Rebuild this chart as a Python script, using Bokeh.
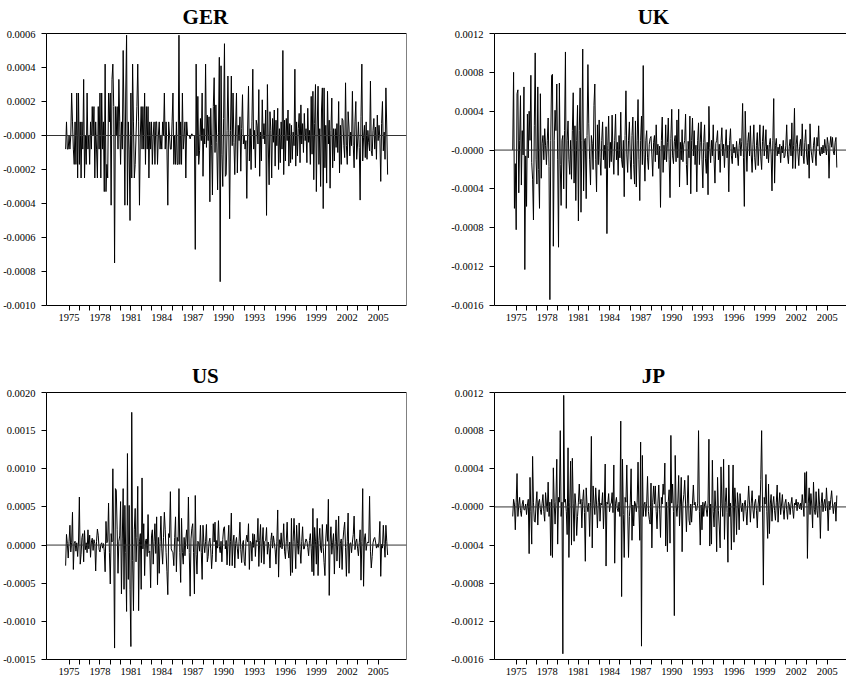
import numpy as np
from bokeh.plotting import figure
from bokeh.models import Range1d, FixedTicker, LinearAxis, Span
from bokeh.core.properties import value
from bokeh.layouts import row, column
from bokeh.embed import file_html
from bokeh.resources import INLINE

# Monthly series, values in units of 1e-4
UNIT = 1e-4
START = 1974 + 8 / 12   # first observation (fractional year)
STEP = 1 / 12

ger = [
    -0.8, 0.8, -0.8, -0.8, 0.0, -0.8, 0.0, 2.5, 0.8, -0.8, -1.7, 0.8,
    -1.7, 2.5, -2.5, 2.5, -1.7, 0.8, -2.5, 0.8, -0.8, 3.3, -2.5, 0.0,
    -1.7, 2.5, -0.8, 0.0, -1.7, 0.8, -0.8, 1.7, 0.0, 1.7, -2.5, 0.8,
    -0.8, -2.5, 1.7, -0.8, 2.5, -2.5, 2.5, -0.8, 0.8, -3.3, 4.2, -3.3,
    -1.7, -2.5, 2.5, 0.8, 2.5, -4.1, 3.3, 4.2, 1.7, -7.5, 1.7, 0.0,
    1.7, -0.8, 3.3, 0.8, -1.7, 0.8, -0.8, 5.0, 0.8, -4.1, 2.5, 5.9,
    -4.1, 0.8, -0.8, -5.0, 2.5, -2.5, 4.2, 0.8, -2.5, -1.7, 0.0, 1.7,
    4.2, 0.8, -4.1, 0.0, 1.7, -0.8, 1.7, -0.8, 2.5, -1.7, 1.7, -0.8,
    1.7, -2.5, 0.8, -0.8, 0.8, -1.7, 0.0, 0.8, -1.7, 0.8, 0.8, -1.7,
    0.0, 0.8, -0.8, 0.0, -0.8, 0.8, 0.0, 2.5, -0.8, 0.8, -0.8, -4.1,
    0.8, 0.0, -0.8, -0.8, 0.8, 2.5, -1.7, 0.0, -1.7, 0.8, -1.7, -1.7,
    5.9, -1.7, 0.8, -1.7, 2.5, -0.8, 0.0, 0.8, -2.5, 0.8, 0.0, 0.0,
    0.0, -0.2, 0.0, 0.1, 0.0, 0.0, 0.0, -6.7, 4.2, -1.2, 2.3, -1.7,
    -0.9, 1.0, -0.3, 2.5, -2.4, 0.4, -0.5, 4.2, -0.7, 1.2, -0.3, 1.1,
    -3.9, 1.6, -0.6, -3.5, 1.7, 3.4, -1.0, 1.8, -0.4, -3.2, 0.2, 4.6,
    -8.6, 4.1, -1.1, -3.0, 1.0, 5.4, -2.4, -2.3, 0.3, 3.5, 0.2, -4.9,
    0.3, 3.5, -0.6, 2.5, -0.4, -2.3, 0.5, 2.5, -2.2, 0.6, -0.3, 1.1,
    -2.1, 0.4, 2.4, -0.5, 0.0, -0.8, -0.3, -3.7, 0.5, 2.9, -1.5, 0.4,
    -2.0, 0.8, 3.9, -0.8, 0.3, -1.9, 0.9, 0.6, -0.5, 2.7, -2.4, 0.2,
    -1.5, 2.1, -0.2, 0.7, -0.5, 1.5, -4.7, 3.0, -0.5, -2.9, 1.4, 0.3,
    -2.5, 1.0, -0.4, 1.5, -1.8, 0.9, -0.6, 1.6, -2.0, 0.4, -1.6, 0.8,
    -0.8, 5.0, -2.3, 0.9, -1.5, 1.0, -0.3, 1.5, -1.8, 0.7, -1.6, 0.6,
    -1.4, 0.2, -0.6, 3.9, -1.8, 0.8, -1.2, 0.4, 1.3, -1.6, 1.8, -0.5,
    0.7, -1.0, 1.3, -0.3, 0.4, -1.6, 1.6, -0.4, 0.3, -1.7, 2.3, -1.1,
    2.6, -2.6, 0.7, 3.0, -3.3, 0.5, 2.9, -1.7, 0.4, -3.0, 1.5, 2.8,
    -4.3, 2.8, -1.9, 0.6, -2.8, 2.6, -0.5, 0.9, -3.1, 0.3, 2.2, -1.9,
    0.4, -1.5, 0.4, -0.7, 0.7, -1.0, 2.0, -2.2, 0.6, -1.7, 1.0, 0.9,
    -0.6, -1.3, 3.1, -0.6, -1.7, 1.4, 0.5, -1.2, 0.2, -0.6, 2.6, -0.6,
    -1.9, 0.8, 2.0, -1.4, -0.5, 0.8, -0.7, -3.8, 1.1, 4.2, -1.5, -0.1,
    0.6, -1.3, 0.8, -1.4, 0.3, -0.4, -0.9, 3.2, -0.9, -1.2, 0.3, 1.0,
    -0.8, 0.5, -1.4, 1.2, -0.3, 0.6, -0.2, -2.7, 0.7, 2.0, -0.9, 0.2,
    -1.4, 2.8, 0.5, -2.3,
]

uk = [
    0.0, 8.0, -6.0, -1.4, -8.2, 5.8, 6.2, -4.4, 1.0, 5.6, -3.6, 2.0,
    -0.5, 6.5, -12.3, -0.6, -5.8, 3.7, -0.8, 4.0, 1.0, 7.7, -1.3, -3.0,
    -7.2, 2.5, 10.0, -1.0, -3.5, 6.5, -2.0, -6.0, 5.8, -2.9, 0.7, 1.5,
    -1.0, 2.2, 0.5, -1.5, 1.0, 3.3, -1.7, -15.4, 1.0, 7.7, 7.8, -9.9,
    1.0, 4.1, 2.0, 6.8, -1.0, -10.0, 6.9, -1.5, -5.7, 1.0, 1.5, -4.0,
    2.0, 10.1, -6.0, 1.0, 3.0, -1.0, -2.5, 1.0, -3.0, 2.0, 5.9, -3.4,
    2.5, -5.2, 1.0, 4.6, -7.3, 2.0, 6.4, -6.4, 1.0, 10.4, -4.2, 1.0,
    1.2, -5.0, 1.5, 8.8, 2.7, -1.0, -3.6, 1.5, 0.7, -2.0, 4.6, 6.8,
    -1.0, -4.3, 2.6, -1.5, 3.1, -0.8, -2.6, 1.0, 2.9, -1.0, 0.5, -1.9,
    2.4, -8.6, 0.5, 3.5, -1.8, 0.8, -1.2, 3.6, -0.5, -2.5, 1.0, 3.7,
    -1.0, 0.8, -2.6, 1.5, -0.8, 3.9, -1.0, -1.8, 1.0, -4.8, 1.5, 6.1,
    -0.5, -2.3, 1.0, 2.9, -1.0, -3.0, 1.5, 3.4, -1.5, -3.5, 3.0, -3.8,
    1.0, 5.2, -1.0, -5.2, 1.0, 3.5, -1.5, 8.7, -0.5, -3.2, 1.0, 2.0,
    -0.8, -2.0, 0.6, 1.2, 1.4, -0.5, -2.7, 0.8, 1.5, -1.2, 2.6, -0.5,
    0.6, -1.9, 0.4, -5.9, 1.0, 3.4, -2.3, 0.5, -1.0, 2.6, -1.2, 0.8,
    3.3, -1.0, -4.9, 1.2, 4.2, -0.6, -1.4, 0.9, 1.5, -1.2, 3.1, -0.8,
    4.2, -3.8, 0.8, -1.0, 2.1, -1.2, 0.6, 1.0, 3.7, -1.5, -3.6, 0.9,
    -0.8, 3.5, -4.5, 1.0, 3.3, -0.6, 2.0, -1.5, 0.5, -4.3, 1.0, 2.8,
    -1.5, 0.8, 2.9, -1.0, -3.9, 0.8, 2.6, -0.9, -2.4, 0.8, -4.6, 4.5,
    0.3, -1.3, 1.0, -0.6, 2.6, -1.0, -3.4, 0.7, 1.0, 2.0, -1.0, 0.6,
    -2.3, 0.8, 2.3, -0.6, 0.6, -1.8, 0.4, 2.1, -0.8, 0.5, -4.3, 1.0,
    2.2, -0.6, -1.4, 0.6, -0.3, 0.3, -0.8, 0.9, -0.4, -1.6, 0.5, 1.2,
    -0.6, 0.9, 4.8, -0.8, -5.8, 4.0, 0.5, -2.2, 0.8, 1.8, -0.6, 2.5,
    -0.5, -2.3, 0.6, 2.6, -0.8, -2.0, 0.5, 1.8, -1.6, 0.4, 2.6, -0.7,
    -2.0, 0.9, 2.5, -0.6, 0.4, 2.1, -0.9, 0.5, -1.3, 0.6, 1.2, -0.5,
    -4.2, 1.0, 5.3, -3.4, 0.5, 1.2, -0.6, 0.3, -0.4, 0.6, -1.3, 0.4,
    -0.3, 1.0, -0.8, -0.6, 0.5, 2.6, -0.5, -1.4, 0.4, 1.1, -0.6, 2.8,
    -1.9, 0.5, 4.3, -1.9, 0.6, 1.5, -0.3, -1.6, 0.4, 1.1, -0.6, 2.7,
    -0.5, -1.4, 0.8, 2.1, -0.5, -1.5, 0.6, -2.9, 2.7, 0.2, -0.6, -1.3,
    0.5, 1.3, -0.4, -1.6, 1.3, 0.4, 2.5, -0.4, -0.6, 0.3, -0.4, 0.5,
    -0.3, 1.1, 0.2, -0.5, 1.3, 0.6, -2.9, 0.5, 1.4, 0.3, 1.3, -0.2,
    -0.5, 0.8, 1.3, -1.8,
]

us = [
    -2.7, 1.4, 0.2, -1.7, 0.5, 2.6, -0.9, 0.3, 4.3, -3.2, 0.2, 0.5,
    -0.8, 0.3, -1.5, 0.4, 6.3, -2.5, -1.2, 1.0, 1.5, -2.2, 1.9, -0.6,
    0.3, -1.0, 2.0, -0.5, 1.3, -1.6, 0.4, 0.9, -0.7, 0.7, 0.2, -3.4,
    0.5, 2.1, 1.3, -0.6, -0.9, 0.1, 0.3, -0.4, 0.2, -0.8, -3.5, 3.1,
    0.3, 0.5, 5.5, -1.0, -5.1, 1.5, 0.4, 10.0, 0.5, -13.5, 7.4, 7.2,
    2.0, -3.7, 0.5, 1.2, 5.7, -6.4, 0.8, 7.4, -5.8, 5.2, -1.0, -8.7,
    12.0, -4.5, 5.2, -5.8, -13.3, 17.4, -2.0, -8.6, 2.0, 4.8, -2.2, 1.0,
    7.7, -8.6, 0.5, 1.5, -5.8, 8.8, -0.5, 2.8, -4.0, 0.6, 0.8, -1.5,
    4.0, -1.0, -0.8, -5.6, 1.2, 2.0, -2.5, 0.5, 2.8, -1.1, 3.7, -5.2,
    1.0, -3.7, 0.5, 3.8, -0.5, -2.5, 1.0, 4.3, 2.0, -1.0, -3.5, -6.5,
    1.5, 1.0, 7.0, -0.5, -0.8, -1.0, -2.7, 1.0, 3.7, -3.5, 1.0, 0.5,
    7.4, -1.0, -4.9, 3.5, -1.0, -2.5, 1.0, -1.4, 0.8, 2.0, -0.5, 6.3,
    -1.0, -6.7, 0.8, 2.2, 2.8, -1.0, -6.4, 6.5, -1.2, -3.8, 0.5, 0.3,
    -0.8, 2.6, -1.0, -4.5, 2.6, 0.3, -1.0, 0.5, 2.7, -2.2, -1.5, 0.4,
    0.9, -0.5, -3.1, -1.2, 2.8, 0.4, 3.0, -2.2, 0.6, -0.4, 3.2, -0.2,
    -1.0, 0.5, -2.2, 0.7, 2.2, 2.4, -0.5, 0.6, -2.6, 0.4, 2.6, -2.7,
    0.5, 4.2, -2.7, 0.4, 1.3, -3.0, 0.2, 1.0, -0.5, -1.8, 0.5, 3.0,
    -0.6, -2.3, 0.1, 0.6, -2.2, -2.7, 0.5, 1.3, 0.4, 2.8, -3.2, 0.5,
    0.3, -2.1, 1.5, -0.3, 1.4, -1.5, 0.6, 0.4, 3.5, -2.8, 0.6, 2.7,
    -2.3, 0.4, 2.3, -2.5, 0.5, 0.6, 2.3, -1.2, 0.4, -0.5, -3.0, 0.6,
    1.6, -0.4, 1.2, 0.3, -0.6, -2.5, 0.5, 4.6, -4.2, 0.7, -0.3, 1.6,
    -0.5, 0.4, 2.8, -0.8, -1.8, 0.5, 3.0, -0.6, -1.7, 0.4, -4.0, 3.5,
    -3.6, 0.5, 3.5, 0.4, -3.1, 2.6, 0.2, -1.2, 2.9, -0.6, -2.4, 0.5,
    2.4, -0.5, -0.5, 0.3, 0.8, 0.5, -0.3, -1.4, 0.6, 1.5, -0.5, -3.5,
    4.8, -4.0, 2.3, 0.5, -2.5, 3.5, -4.0, 0.6, 2.2, -0.5, -1.0, 2.7,
    -0.3, -2.3, -4.0, 0.8, 2.7, 0.5, 6.0, -6.6, 0.4, 2.4, -1.2, 0.3,
    1.5, -3.8, 0.5, 3.3, -2.1, 0.4, 3.8, -3.0, 0.2, 0.8, -3.2, 0.6,
    2.0, 3.0, -0.3, -4.1, 0.5, 4.2, -3.7, 0.2, 0.3, -1.0, 0.4, 1.4,
    3.8, -0.6, 0.4, 0.8, -0.4, -1.4, 0.3, 2.0, -4.6, 0.5, 7.4, -5.4,
    0.8, 1.5, -0.7, 0.2, 0.4, 0.3, 6.4, -0.8, -3.0, -1.5, 0.3, 0.8,
    1.0, 0.4, -0.4, 0.1, -0.3, 0.4, 3.1, -4.1, 0.1, -0.4, 2.6, 0.2,
    -1.6, 2.6, 0.5, -1.3,
]

jp = [
    -1.0, 0.8, 0.3, -2.4, 0.5, 3.5, -1.0, 0.2, 1.0, -0.4, -1.0, 0.3,
    0.7, -0.3, -0.3, 0.3, -0.8, 0.2, 0.8, -4.9, 3.1, -0.5, -3.9, 5.3,
    0.5, -1.5, -1.6, 0.4, 1.6, -1.9, 0.5, 0.8, -0.3, -0.8, 0.4, 1.3,
    -0.5, -1.5, 1.5, 0.3, -0.5, 2.6, -1.0, 0.5, -5.1, 0.8, -5.3, 4.1,
    0.5, -1.8, 0.6, 5.0, -3.9, 1.0, 0.5, 8.0, -1.0, 0.5, -15.4, 11.7,
    0.5, 0.8, -0.5, -2.9, 6.2, -5.3, 0.5, 4.8, -4.0, 5.1, 0.4, -3.6,
    1.4, 0.2, -3.0, -1.0, 0.5, 2.4, 0.3, 0.8, -2.2, 0.6, 1.8, -0.6,
    -5.7, 2.0, 0.3, -0.5, 0.4, -3.1, 0.5, 7.4, -4.3, 2.2, 0.4, -0.8,
    2.0, 0.3, -2.2, 0.5, 1.8, -1.5, 0.4, 0.2, 1.5, -2.3, 0.5, 4.5,
    -6.2, 0.5, 0.3, 1.4, -0.5, 0.3, 0.4, 1.5, -0.6, 4.4, -5.9, 0.4,
    1.0, -0.2, -0.5, 0.5, -1.0, 9.0, -9.4, 5.0, -0.8, -5.3, 1.0, 0.5,
    4.4, -0.3, -5.3, -1.0, 0.5, 4.0, -3.5, 0.2, -2.0, 0.6, 0.3, -0.5,
    0.5, 4.7, -0.3, -3.5, 6.8, -14.6, 5.4, -1.0, 0.3, 0.5, -1.0, 0.4,
    3.2, -0.5, -1.3, -1.8, 2.5, -4.3, 0.5, 2.2, 0.3, 2.2, -0.5, -2.3,
    0.4, 2.3, -0.3, -3.2, 1.0, 0.3, 2.4, 1.3, 4.6, -4.1, 0.5, -4.7,
    0.6, 1.8, -3.8, 7.5, 0.4, 2.4, -0.5, -11.4, 5.4, 0.3, -1.0, 0.4,
    3.3, -2.0, 0.3, 3.1, -4.7, 0.4, 1.3, 2.8, 0.3, -2.6, 0.4, 3.3,
    -1.4, -1.9, 0.3, -1.6, 0.4, 2.3, 0.2, 0.5, -0.4, -0.3, 0.4, 8.0,
    -0.5, -4.0, 0.2, -2.4, 0.5, -1.0, 0.3, 0.6, -0.3, -1.0, 0.4, 7.1,
    -4.1, 0.3, -3.9, 4.9, -0.5, -2.1, 1.7, -0.3, -4.7, 3.1, -0.4, -2.1,
    -4.3, 4.2, 0.4, -1.0, 5.0, -3.4, 0.5, 2.0, -0.6, -5.8, 4.4, -1.0,
    0.4, -4.5, 0.3, 4.4, -3.7, 2.0, 0.3, -2.9, 1.5, 0.3, -2.4, 1.4,
    0.3, -0.5, 0.4, -1.5, 0.3, 0.7, -0.5, -1.9, 0.4, 2.2, 0.3, -1.6,
    0.4, 1.7, -0.3, -1.2, 0.4, 0.8, -0.4, -2.2, 0.3, 1.2, -0.5, 2.9,
    8.0, 0.3, -8.2, 1.0, 0.3, 3.4, -0.5, -3.3, 2.4, -2.8, 0.3, 1.3,
    -1.5, 0.3, 1.1, -0.4, -1.4, 0.5, 2.3, -1.6, 0.3, 1.5, -0.8, 0.2,
    1.3, -0.3, -1.3, 0.4, 0.8, -0.3, -1.3, 0.5, 0.2, -0.8, 0.3, 1.0,
    -0.3, -1.2, 0.4, 0.2, 0.8, -0.4, 0.5, 0.3, -0.2, 0.4, -0.3, 1.3,
    0.2, -1.0, 3.6, 0.4, 3.7, -5.4, 0.4, 2.0, -0.8, 1.4, 0.2, -2.2,
    2.6, -0.3, -0.8, 1.6, -0.4, -1.1, 1.9, 0.3, -3.3, 0.4, 1.5, -0.5,
    0.3, 0.8, -0.4, 2.0, 0.3, -2.5, 0.6, -0.3, 0.8, 1.7, 0.3, -0.7,
    0.3, 0.5, -1.5, 1.2,
]

year_ticks = list(range(1975, 2006))
year_labels = {y: (str(y) if (y - 1975) % 3 == 0 else "") for y in year_ticks}

ger_yticks = [0.0006, 0.0004, 0.0002, 0, -0.0002, -0.0004, -0.0006, -0.0008, -0.001]
ger_ylabels = ["0.0006", "0.0004", "0.0002", "-0.0000", "-0.0002", "-0.0004",
               "-0.0006", "-0.0008", "-0.0010"]
uk_yticks = [0.0012, 0.0008, 0.0004, 0, -0.0004, -0.0008, -0.0012, -0.0016]
uk_ylabels = ["0.0012", "0.0008", "0.0004", "-0.0000", "-0.0004", "-0.0008",
              "-0.0012", "-0.0016"]
us_yticks = [0.002, 0.0015, 0.001, 0.0005, 0, -0.0005, -0.001, -0.0015]
us_ylabels = ["0.0020", "0.0015", "0.0010", "0.0005", "0.0000", "-0.0005",
              "-0.0010", "-0.0015"]
jp_yticks = [0.0012, 0.0008, 0.0004, 0, -0.0004, -0.0008, -0.0012, -0.0016]
jp_ylabels = ["0.0012", "0.0008", "0.0004", "-0.0000", "-0.0004", "-0.0008",
              "-0.0012", "-0.0016"]

SERIF = "Liberation Serif"
TITLE_YEAR = 1988.23     # horizontal centre of the panel titles (axis units)
TITLE_RISE = 14          # baseline height of the title inside its strip (px)


def style_axis(ax, ticks, overrides, standoff):
    ax.ticker = FixedTicker(ticks=ticks)
    ax.major_label_overrides = overrides
    ax.major_label_text_font = SERIF
    ax.major_label_text_font_size = "10.5px"
    ax.major_label_text_color = "black"
    ax.axis_line_color = "black"
    ax.axis_line_width = 1
    ax.major_tick_line_color = "black"
    ax.major_tick_out = 5
    ax.major_tick_in = 0
    ax.minor_tick_line_color = None
    ax.minor_tick_out = 0
    ax.major_label_standoff = standoff


def edge_axis(color):
    return LinearAxis(ticker=FixedTicker(ticks=[]), axis_line_color=color,
                      major_tick_line_color=None, minor_tick_line_color=None,
                      major_tick_out=0, minor_tick_out=0, major_tick_in=0,
                      minor_tick_in=0, major_label_text_font_size="0px",
                      major_label_standoff=0)


def title_strip(name, xr, width, height, bl, br):
    t = figure(width=width, height=height, output_backend="svg",
               toolbar_location=None, x_axis_type=None, y_axis_type=None,
               x_range=Range1d(*xr), y_range=Range1d(0, height),
               min_border_left=bl, min_border_right=br,
               min_border_top=0, min_border_bottom=0,
               background_fill_color="white", border_fill_color="white",
               outline_line_color=None)
    t.grid.visible = False
    t.text(x=[TITLE_YEAR], y=[TITLE_RISE], text=[name],
           text_align="center", text_baseline="alphabetic",
           text_font=value(SERIF), text_font_size="21px",
           text_font_style="bold", text_color="black")
    return t


def panel(vals, yticks, ylabels, xr, width, height, bl, br, bt, bb, right_edge):
    x = START + np.arange(len(vals)) * STEP
    y = np.array(vals) * UNIT
    p = figure(width=width, height=height, output_backend="svg",
               toolbar_location=None,
               x_range=Range1d(*xr), y_range=Range1d(min(yticks), max(yticks)),
               min_border_left=bl, min_border_right=br,
               min_border_top=bt, min_border_bottom=bb,
               background_fill_color="white", border_fill_color="white",
               outline_line_color=None)
    p.grid.visible = False
    p.add_layout(Span(location=0, dimension="width", line_color="#333333",
                      line_width=1))
    p.line(x, y, line_color="black", line_width=1)

    style_axis(p.xaxis[0], year_ticks, year_labels, 3)
    style_axis(p.yaxis[0], yticks, dict(zip(yticks, ylabels)), 6)

    p.add_layout(edge_axis("black"), "above")
    if right_edge:
        p.add_layout(edge_axis("#808080"), "right")
    return p


XR_LEFT = (1972.81, 2007.75)
XR_RIGHT = (1972.91, 2006.85)

t_ger = title_strip("GER", XR_LEFT, 426, 30, 44, 20)
p_ger = panel(ger, ger_yticks, ger_ylabels, XR_LEFT, 426, 322, 44, 20, 3, 47, True)
t_uk = title_strip("UK", XR_RIGHT, 420, 30, 68, 0)
p_uk = panel(uk, uk_yticks, uk_ylabels, XR_RIGHT, 420, 322, 68, 0, 3, 47, False)
t_us = title_strip("US", XR_LEFT, 426, 37, 44, 20)
p_us = panel(us, us_yticks, us_ylabels, XR_LEFT, 426, 291, 44, 20, 3, 21, True)
t_jp = title_strip("JP", XR_RIGHT, 420, 37, 68, 0)
p_jp = panel(jp, jp_yticks, jp_ylabels, XR_RIGHT, 420, 291, 68, 0, 3, 21, False)

layout = column(
    row(column(t_ger, p_ger), column(t_uk, p_uk)),
    row(column(t_us, p_us), column(t_jp, p_jp)),
)

with open("out.html", "w") as f:
    f.write(file_html(layout, INLINE))
